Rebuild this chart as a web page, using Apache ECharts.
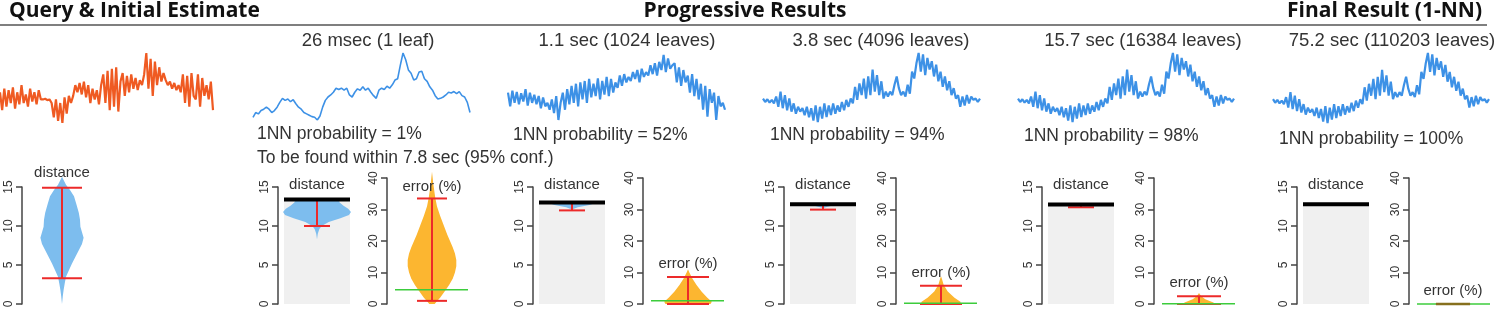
<!DOCTYPE html>
<html>
<head>
<meta charset="utf-8">
<script src="https://cdn.jsdelivr.net/npm/echarts@6/dist/echarts.min.js"></script>
<style>
html, body { margin: 0; padding: 0; background: #fff; }
#chart { width: 1497px; height: 312px; }
</style>
</head>
<body>
<div id="chart"></div>
<script>
// query series (orange) and best-so-far matches (blue)
const querySeries = [45, 20, 50, 25, 48, 30, 52, 22, 45, 28, 55, 30, 42, 25, 50, 32, 45, 28, 48, 35,
  35, 36, 34, 35,
  30, 10, 35, 5, 30, 2, 38, 15, 40, 30,
  40, 55, 45, 58, 42, 60, 38, 55, 30, 50, 35, 48, 28, 55,
  70, 30, 75, 20, 78, 25, 80, 18, 60,
  72, 40, 68, 45, 70, 50, 65, 48, 62, 55, 70,
  100, 50, 92, 40, 88, 55, 80, 60, 72,
  62, 55, 60, 50, 58, 48, 55, 45,
  70, 30, 68, 25, 72, 40, 35, 70, 25, 65, 40, 55, 35, 60, 20];

const leaf1Series = [5, 12, 10, 15, 17, 20, 17, 12, 15, 20, 27, 33, 30, 32, 28, 31, 25, 20, 17, 12,
  10, 8, 6, 5, 1, 7, 20, 30, 35, 38, 42, 48, 46, 48, 45, 48, 38, 35, 42, 47,
  45, 50, 45, 48, 42, 37, 33, 45, 48, 46, 51, 48, 53, 60, 62, 82, 100, 90, 75, 70,
  60, 62, 72, 73, 62, 58, 50, 45, 37, 32, 33, 35, 38, 42, 41, 43, 40, 43, 37, 35,
  27, 12];

const leaf1024Series = [45, 25, 48, 30, 46, 28, 44, 32, 50, 26, 45, 30, 42, 28, 40, 22, 38, 25, 30, 20, 35, 15, 40, 5, 30,
  45, 20, 50, 28, 55, 30, 58, 25, 60, 35, 62, 30, 65, 38, 58, 40, 66, 35, 62, 42, 68, 40, 65, 45, 60, 52,
  70, 55, 72, 60, 68, 62, 75, 65, 78, 60, 80, 68, 75, 70, 85, 72, 88, 70, 90, 78,
  100, 75, 95, 80, 85,
  88, 60, 82, 55, 78, 60, 70, 45, 72, 40, 65, 35, 58, 20, 55, 10, 50, 30, 45, 5, 40, 25, 30, 20];

// 4096, 16384 and 110203 leaves all show the same match
const nnSeries = [34, 29, 33, 28, 32, 27, 37, 22, 44, 20,
  39, 17, 34, 15, 27, 12, 22, 15, 20, 10,
  22, 7, 20, 2, 24, 0, 22, 5, 27, 7,
  24, 10, 27, 12, 24, 15, 29, 17, 32, 22,
  34, 27, 51, 32, 56, 39, 63, 34, 66, 39,
  76, 44, 68, 39, 59, 34, 44, 37, 44, 39,
  54, 66, 49, 39, 44, 37, 54, 41, 73, 63,
  85, 100, 73, 98, 68, 93, 76, 88, 66, 83,
  59, 73, 51, 66, 46, 59, 39, 49, 34, 39,
  22, 37, 24, 39, 27, 37, 32, 34, 29, 34];

const stepTitles = ['26 msec (1 leaf)', '1.1 sec (1024 leaves)', '3.8 sec (4096 leaves)', '15.7 sec (16384 leaves)', '75.2 sec (110203 leaves)'];
const probTexts = ['1NN probability = 1%', '1NN probability = 52%', '1NN probability = 94%', '1NN probability = 98%', '1NN probability = 100%'];
const etaText = 'To be found within 7.8 sec (95% conf.)';

// initial estimate: [distance, half width]
const queryViolin = [[0, 0], [1, 0.02], [1.8, 0.04], [2.7, 0.07], [3.5, 0.1], [4.3, 0.17], [5.2, 0.25], [6, 0.33], [6.9, 0.42], [7.7, 0.5], [8.5, 0.54],
  [9.2, 0.5], [9.9, 0.46], [10.8, 0.45], [11.7, 0.42], [12.8, 0.36], [13.8, 0.3], [14.6, 0.2], [15.3, 0.1], [16, 0.03], [16.3, 0]];
const queryLo = 3.3;
const queryHi = 14.9;

const bestDist = [13.4, 13.0, 12.8, 12.75, 12.8];
const distLo = [10, 12, 12.1, 12.4, null];
const distHi = [13.4, 13, 12.8, 12.75, null];
const distViolins = [
  [[8.3, 0], [9, 0.02], [9.6, 0.06], [10, 0.12], [10.5, 0.3], [11, 0.6], [11.4, 0.82], [11.8, 0.87], [12.2, 0.8], [12.6, 0.68], [13, 0.58], [13.4, 0.55]],
  [[12.1, 0], [12.4, 0.15], [12.7, 0.45], [13, 0.64]],
  [[12.3, 0], [12.55, 0.2], [12.8, 0.38]],
  [[12.5, 0], [12.75, 0.12]],
  []
];

const errLo = [1, 0, 0, 0, null];
const errHi = [33.5, 8.6, 5.8, 2.5, null];
const errActual = [4.5, 1.0, 0.2, 0.1, 0];
const errViolins = [
  [[0, 0.06], [1, 0.12], [2, 0.18], [4, 0.28], [6, 0.38], [8, 0.46], [10, 0.51], [12, 0.54], [14, 0.54], [16, 0.51], [18, 0.46], [20, 0.4], [22, 0.34], [25, 0.26], [28, 0.18], [31, 0.11], [34, 0.07], [38, 0.03], [42, 0]],
  [[0, 0.5], [0.7, 0.53], [2, 0.43], [4, 0.3], [6, 0.19], [8, 0.1], [10, 0.03], [11, 0]],
  [[0, 0.42], [0.6, 0.44], [2, 0.3], [4, 0.15], [6, 0.06], [8, 0.02], [8.8, 0]],
  [[0, 0.36], [0.5, 0.32], [1.5, 0.14], [2.5, 0.05], [3.5, 0]],
  [[0, 0.38]]
];

// layout
const seriesBoxes = [[0, 53, 213, 70], [253, 53, 217, 67], [508, 55, 217, 65], [763, 53, 217, 69], [1018, 53, 216, 69], [1273, 53, 216, 70]];
const subtitleX = [368, 627, 881, 1143, 1392];
const probX = [257, 513, 770, 1024, 1279];
const probY = [134, 135, 135, 136, 139];
const distAxisX = [278, 533, 784, 1042, 1297];
const errAxisX = [387, 643, 896, 1154, 1409];
const errCap = [15, 21, 21, 22, 0];

const FONT = '"Liberation Sans", Arial, sans-serif';
const HEAD_FONT = '"Open Sans", sans-serif';
const RED = '#ec2a2a';
const BLUE_V = '#7dbdee';
const ORANGE_V = '#fcb630';

const chart = echarts.init(document.getElementById('chart'));
const grids = [], xAxis = [], yAxis = [], series = [];

function addGrid(box, xa, ya) {
  const i = grids.length;
  grids.push({ left: box[0], top: box[1], width: box[2], height: box[3] });
  xAxis.push(Object.assign({ gridIndex: i }, xa));
  yAxis.push(Object.assign({ gridIndex: i }, ya));
  return i;
}

// time series panels
[querySeries, leaf1Series, leaf1024Series, nnSeries, nnSeries, nnSeries].forEach((d, k) => {
  const g = addGrid(seriesBoxes[k],
    { type: 'category', show: false, boundaryGap: false, data: d.map((_, i) => i) },
    { type: 'value', show: false, min: 'dataMin', max: 'dataMax' });
  series.push({
    type: 'line', xAxisIndex: g, yAxisIndex: g, data: d, symbol: 'none', silent: true,
    lineStyle: { color: k === 0 ? '#ef5a22' : '#3d91e6', width: k === 1 ? 1.6 : 2.2 }
  });
});

const rAxis = (max, interval) => ({
  type: 'value', min: 0, max: max, interval: interval, position: 'left',
  axisLine: { show: true, onZero: false, lineStyle: { color: '#444', width: 1.5 } },
  axisTick: { show: true, length: 6, lineStyle: { color: '#444', width: 1.5 } },
  axisLabel: { rotate: 90, fontSize: 12, color: '#333', margin: 7, fontFamily: FONT },
  splitLine: { show: false }
});
const hiddenX = { type: 'value', min: -1, max: 1, show: false };

function violin(api, v, fill) {
  const right = v.map(p => api.coord([p[1], p[0]]));
  const left = v.slice().reverse().map(p => api.coord([-p[1], p[0]]));
  return { type: 'polygon', shape: { points: right.concat(left) }, style: { fill: fill } };
}
function hLine(api, val, half, stroke, width) {
  const c = api.coord([0, val]);
  return { type: 'line', shape: { x1: c[0] - half, y1: c[1], x2: c[0] + half, y2: c[1] }, style: { stroke: stroke, lineWidth: width } };
}
function vLine(api, lo, hi) {
  const a = api.coord([0, lo]), b = api.coord([0, hi]);
  return { type: 'line', shape: { x1: a[0], y1: a[1], x2: b[0], y2: b[1] }, style: { stroke: RED, lineWidth: 2 } };
}
function label(text, x, y) {
  return { type: 'text', style: { text: text, x: x, y: y, align: 'center', verticalAlign: 'middle', fontSize: 15, fontFamily: FONT, fill: '#333' } };
}

// initial estimate violin
{
  const g = addGrid([22, 187, 80, 117], hiddenX, rAxis(15, 5));
  series.push({
    type: 'custom', xAxisIndex: g, yAxisIndex: g, data: [[0, 0]], silent: true, clip: false,
    renderItem: (params, api) => ({
      type: 'group', children: [
        violin(api, queryViolin, BLUE_V),
        vLine(api, queryLo, queryHi),
        hLine(api, queryLo, 20, RED, 2),
        hLine(api, queryHi, 20, RED, 2),
        label('distance', api.coord([0, 0])[0], 173)
      ]
    })
  });
}

// progressive distance + error panels
for (let k = 0; k < 5; k++) {
  const gd = addGrid([distAxisX[k], 187, 78, 117], hiddenX, rAxis(15, 5));
  series.push({
    type: 'custom', xAxisIndex: gd, yAxisIndex: gd, data: [[0, 0]], silent: true, clip: false,
    renderItem: (params, api) => {
      const left = api.coord([-1, 0])[0];
      const top = api.coord([0, bestDist[k]])[1];
      const bottom = api.coord([0, 0])[1];
      const ch = [{ type: 'rect', shape: { x: left + 6, y: top, width: 66, height: bottom - top }, style: { fill: '#f0f0f0' } }];
      if (distViolins[k].length) ch.push(violin(api, distViolins[k], BLUE_V));
      if (distLo[k] !== null) {
        ch.push(vLine(api, distLo[k], distHi[k]));
        ch.push(hLine(api, distLo[k], 13, RED, 2));
      }
      ch.push({ type: 'line', shape: { x1: left + 6, y1: top, x2: left + 72, y2: top }, style: { stroke: '#000', lineWidth: 4 } });
      ch.push(label('distance', api.coord([0, 0])[0], 185));
      return { type: 'group', children: ch };
    }
  });

  const ge = addGrid([errAxisX[k], 178, 90, 126], hiddenX, rAxis(40, 10));
  series.push({
    type: 'custom', xAxisIndex: ge, yAxisIndex: ge, data: [[0, 0]], silent: true, clip: false,
    renderItem: (params, api) => {
      const left = api.coord([-1, 0])[0];
      const ch = [];
      const v = errViolins[k];
      if (v.length > 1) ch.push(violin(api, v, ORANGE_V));
      if (errLo[k] !== null) {
        ch.push(vLine(api, errLo[k], errHi[k]));
        ch.push(hLine(api, errLo[k], errCap[k], RED, 2));
        ch.push(hLine(api, errHi[k], errCap[k], RED, 2));
      }
      const gy = api.coord([0, errActual[k]])[1];
      ch.push({ type: 'line', shape: { x1: left + 8, y1: gy, x2: left + 81, y2: gy }, style: { stroke: '#3ccc3c', lineWidth: 1.5 } });
      if (v.length === 1) ch.push(hLine(api, v[0][0], v[0][1] * 45, '#86701e', 2.5));
      const hiY = api.coord([0, errHi[k] === null ? 0 : errHi[k]])[1];
      ch.push(label('error (%)', api.coord([0, 0])[0], Math.max(hiY - 13, 187)));
      return { type: 'group', children: ch };
    }
  });
}

const graphic = [
  { type: 'text', x: 9, y: 11, style: { text: 'Query & Initial Estimate', fontSize: 21, fontWeight: 'bold', fontFamily: HEAD_FONT, fill: '#111', align: 'left', verticalAlign: 'middle' } },
  { type: 'text', x: 745, y: 11, style: { text: 'Progressive Results', fontSize: 21, fontWeight: 'bold', fontFamily: HEAD_FONT, fill: '#111', align: 'center', verticalAlign: 'middle' } },
  { type: 'text', x: 1482, y: 11, style: { text: 'Final Result (1-NN)', fontSize: 21, fontWeight: 'bold', fontFamily: HEAD_FONT, fill: '#111', align: 'right', verticalAlign: 'middle' } },
  { type: 'line', shape: { x1: 0, y1: 25, x2: 1487, y2: 25 }, style: { stroke: '#555', lineWidth: 1.5 } },
  { type: 'text', x: probX[0], y: 158, style: { text: etaText, fontSize: 17.5, fontFamily: FONT, fill: '#333', align: 'left', verticalAlign: 'middle' } }
];
stepTitles.forEach((t, k) => {
  graphic.push({ type: 'text', x: subtitleX[k], y: 41, style: { text: t, fontSize: 18.5, fontFamily: FONT, fill: '#333', align: 'center', verticalAlign: 'middle' } });
  graphic.push({ type: 'text', x: probX[k], y: probY[k], style: { text: probTexts[k], fontSize: 17.5, fontFamily: FONT, fill: '#333', align: 'left', verticalAlign: 'middle' } });
});

chart.setOption({
  animation: false,
  grid: grids,
  xAxis: xAxis,
  yAxis: yAxis,
  series: series,
  graphic: graphic
});
</script>
</body>
</html>
